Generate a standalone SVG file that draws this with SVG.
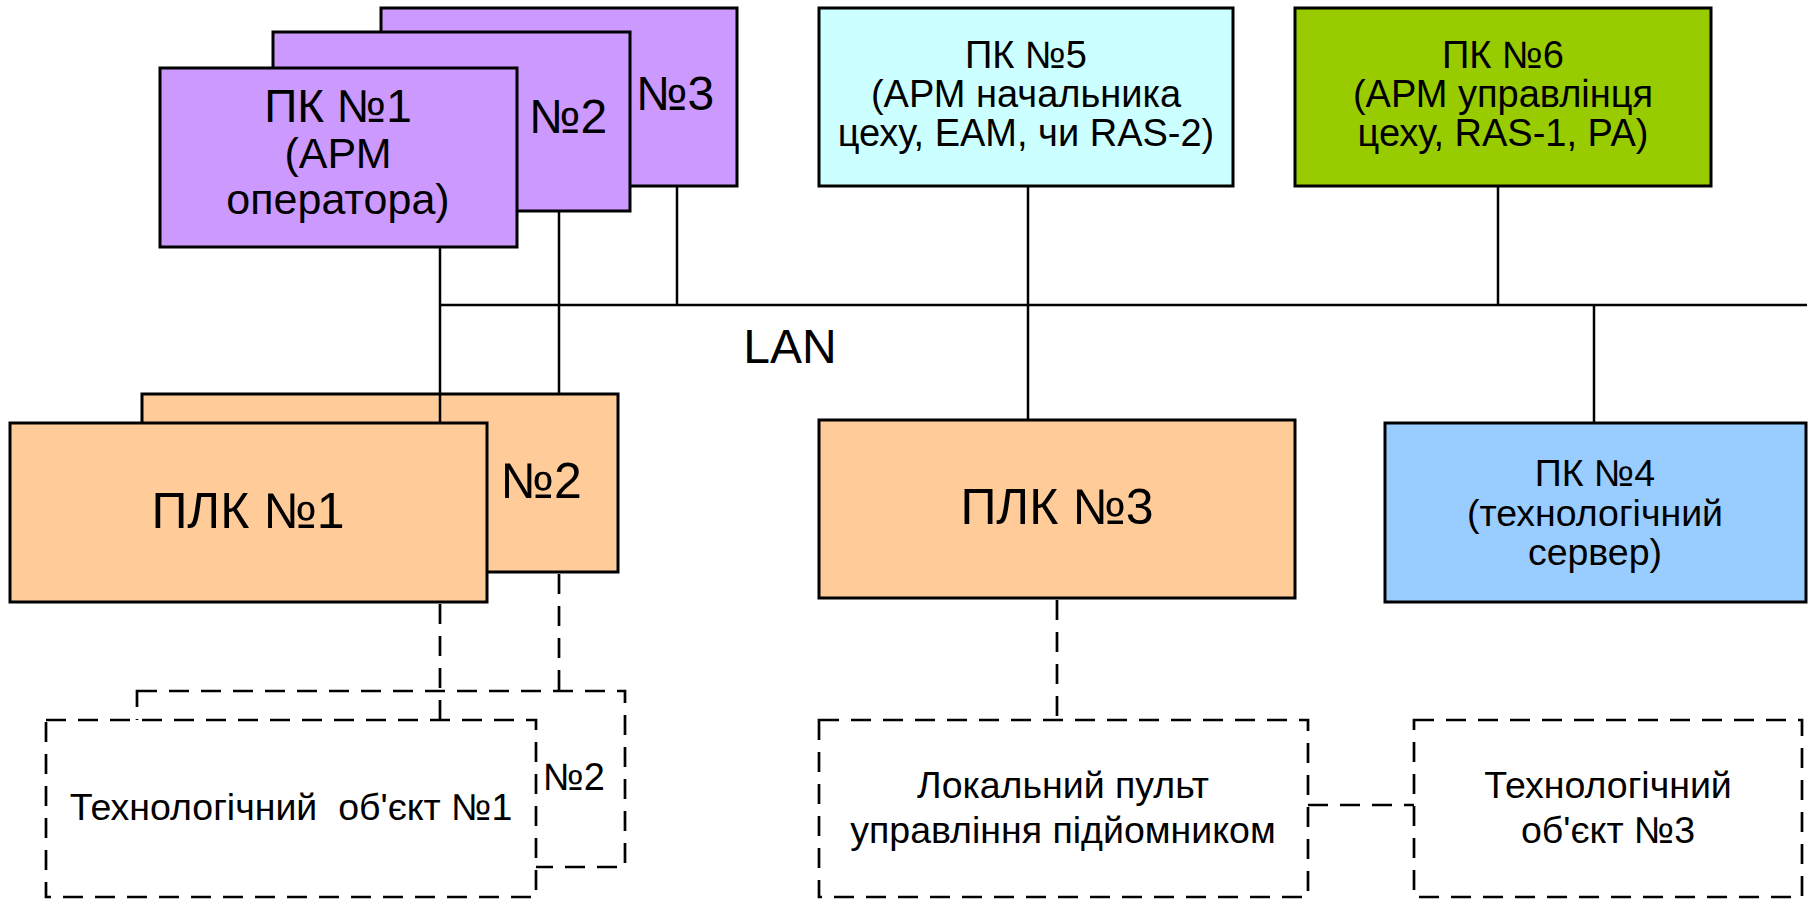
<svg xmlns="http://www.w3.org/2000/svg" width="1814" height="899" viewBox="0 0 1814 899">
  <style>
    text { font-family: "Liberation Sans", Arial, sans-serif; fill: #000; text-anchor: middle; }
    .box { stroke: #000; stroke-width: 3; }
    .pc { fill: #CC99FF; }
    .plc { fill: #FFCC99; }
    .boss { fill: #CCFFFF; }
    .mgr { fill: #99CC00; }
    .srv { fill: #99CCFF; }
    .obj { fill: #FFFFFF; stroke: #000; stroke-width: 2.7; stroke-dasharray: 20 12; }
    .wire { stroke: #000; stroke-width: 2.5; fill: none; }
    .link { stroke: #000; stroke-width: 2.7; fill: none; stroke-dasharray: 20 12; }
    .f46 { font-size: 46px; }
    .f48 { font-size: 48px; }
    .f50 { font-size: 50px; }
    .f43 { font-size: 43px; }
    .f38 { font-size: 38px; }
    .f37 { font-size: 37.5px; }
  </style>

  <!-- operator workstations, stacked -->
  <g id="pc3">
    <rect class="box pc" x="381" y="8" width="356" height="178"/>
    <text class="f48" x="675" y="110">№3</text>
  </g>
  <g id="pc2">
    <rect class="box pc" x="273" y="32" width="357" height="179"/>
    <text class="f48" x="568" y="133">№2</text>
  </g>
  <g id="pc1">
    <rect class="box pc" x="160" y="68" width="357" height="179"/>
    <text class="f46" x="338" y="122">ПК №1</text>
    <text class="f43" x="338" y="168">(АРМ</text>
    <text class="f43" x="338" y="214">оператора)</text>
  </g>

  <g id="pc5">
    <rect class="box boss" x="819" y="8" width="414" height="178"/>
    <text class="f38" x="1026" y="68">ПК №5</text>
    <text class="f38" x="1026" y="107">(АРМ начальника</text>
    <text class="f38" x="1026" y="146">цеху, ЕАМ, чи RAS-2)</text>
  </g>

  <g id="pc6">
    <rect class="box mgr" x="1295" y="8" width="416" height="178"/>
    <text class="f38" x="1503" y="68">ПК №6</text>
    <text class="f38" x="1503" y="107">(АРМ управлінця</text>
    <text class="f38" x="1503" y="146">цеху, RAS-1, РА)</text>
  </g>

  <!-- controllers -->
  <g id="plc2">
    <rect class="box plc" x="142" y="394" width="476" height="178"/>
    <text class="f50" x="541" y="498">№2</text>
  </g>
  <g id="plc1">
    <rect class="box plc" x="10" y="423" width="477" height="179"/>
    <text class="f50" x="248" y="528">ПЛК №1</text>
  </g>
  <g id="plc3">
    <rect class="box plc" x="819" y="420" width="476" height="178"/>
    <text class="f50" x="1057" y="524">ПЛК №3</text>
  </g>

  <g id="pc4">
    <rect class="box srv" x="1385" y="423" width="421" height="179"/>
    <text class="f37" x="1595" y="486">ПК №4</text>
    <text class="f37" x="1595" y="526">(технологічний</text>
    <text class="f37" x="1595" y="565">сервер)</text>
  </g>

  <!-- plant objects -->
  <g id="obj2">
    <rect class="obj" x="137" y="691" width="488" height="176"/>
    <text class="f38" x="574" y="790">№2</text>
  </g>
  <g id="obj1">
    <rect class="obj" x="46" y="720" width="490" height="177"/>
    <text class="f37" x="291" y="820" xml:space="preserve">Технологічний  об'єкт №1</text>
  </g>
  <g id="panel">
    <rect class="obj" x="819" y="720" width="489" height="177"/>
    <text class="f37" x="1063" y="798">Локальний пульт</text>
    <text class="f37" x="1063" y="843">управління підйомником</text>
  </g>
  <g id="obj3">
    <rect class="obj" x="1414" y="720" width="388" height="177"/>
    <text class="f37" x="1608" y="798">Технологічний</text>
    <text class="f37" x="1608" y="843">об'єкт №3</text>
  </g>

  <!-- network bus and links -->
  <g id="connectors">
    <line class="wire" x1="440" y1="305" x2="1807" y2="305"/>
    <line class="wire" x1="440" y1="247" x2="440" y2="423"/>
    <line class="wire" x1="559" y1="211" x2="559" y2="394"/>
    <line class="wire" x1="677" y1="186" x2="677" y2="305"/>
    <line class="wire" x1="1028" y1="186" x2="1028" y2="420"/>
    <line class="wire" x1="1498" y1="186" x2="1498" y2="305"/>
    <line class="wire" x1="1594" y1="305" x2="1594" y2="423"/>
    <line class="link" x1="440" y1="604" x2="440" y2="720"/>
    <line class="link" x1="559" y1="574" x2="559" y2="691"/>
    <line class="link" x1="1057" y1="600" x2="1057" y2="720"/>
    <line class="link" x1="1308" y1="805" x2="1414" y2="805"/>
  </g>
  <text class="f48" x="790" y="363">LAN</text>
</svg>
